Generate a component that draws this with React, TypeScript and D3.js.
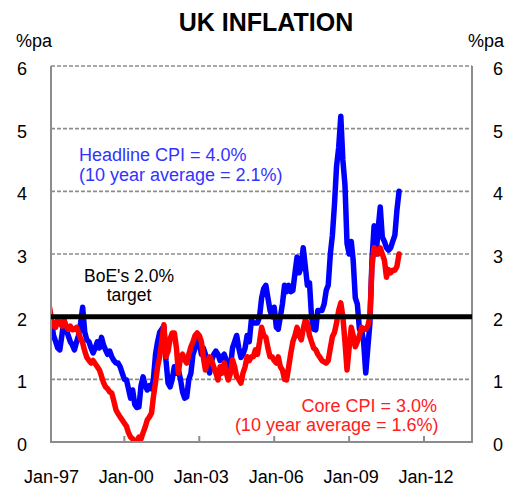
import React, { useEffect, useRef } from 'react';
import * as d3 from 'd3';

// monthly annual % change, Jan-97 .. Jan-11
const headlineCpi = [
	2.1, 1.9, 1.7, 1.6, 1.5, 1.47, 1.7, 1.95, 1.8, 1.7, 1.6, 1.55, // 1997
	1.47, 1.6, 1.7, 1.9, 2.15, 1.75, 1.63, 1.6, 1.5, 1.42, 1.5, 1.6, // 1998
	1.5, 1.67, 1.55, 1.47, 1.4, 1.45, 1.36, 1.3, 1.26, 1.26, 1.2, 1.1, // 1999
	1.0, 0.99, 0.85, 0.7, 0.83, 0.6, 0.55, 0.56, 0.9, 1.04, 0.9, 0.83, // 2000
	0.9, 0.85, 1.0, 1.4, 1.6, 1.75, 1.8, 1.85, 1.3, 0.94, 0.88, 1.0, // 2001
	1.2, 1.1, 1.15, 1.0, 0.8, 0.7, 0.72, 1.0, 1.1, 1.4, 1.5, 1.65, // 2002
	1.6, 1.4, 1.5, 1.4, 1.3, 1.1, 1.3, 1.4, 1.45, 1.4, 1.3, 1.36, // 2003
	1.4, 1.3, 1.1, 1.2, 1.5, 1.6, 1.7, 1.5, 1.35, 1.4, 1.5, 1.7, // 2004
	1.6, 1.95, 1.9, 1.9, 1.9, 2.0, 2.3, 2.45, 2.5, 2.3, 2.1, 2.0, // 2005
	2.15, 1.83, 1.8, 2.0, 2.2, 2.5, 2.4, 2.5, 2.4, 2.42, 2.7, 2.95, // 2006
	2.7, 2.8, 3.1, 2.8, 2.5, 2.54, 2.0, 1.8, 1.79, 2.1, 2.1, 2.1, // 2007
	2.2, 2.42, 2.5, 3.0, 3.3, 3.8, 4.4, 4.7, 5.2, 4.5, 4.1, 3.17, // 2008
	3.0, 3.2, 2.9, 2.3, 2.2, 1.8, 1.8, 1.6, 1.1, 1.5, 1.9, 2.9, // 2009
	3.45, 3.0, 3.4, 3.75, 3.27, 3.2, 3.1, 3.06, 3.1, 3.2, 3.3, 3.7, // 2010
	4.0 // 2011
];
const coreCpi = [
	2.15, 1.95, 1.85, 1.83, 1.95, 1.9, 1.85, 1.95, 1.85, 1.8, 1.85, 1.79, // 1997
	1.8, 1.83, 1.75, 1.65, 1.58, 1.45, 1.35, 1.3, 1.26, 1.3, 1.25, 1.2, // 1998
	1.15, 1.05, 0.95, 0.88, 0.85, 0.8, 0.78, 0.65, 0.51, 0.45, 0.4, 0.35, // 1999
	0.3, 0.25, 0.15, 0.08, 0.05, 0.02, 0.0, 0.08, 0.05, 0.15, 0.24, 0.35, // 2000
	0.4, 0.46, 0.72, 0.95, 1.2, 1.36, 1.6, 1.87, 1.36, 1.45, 1.65, 1.74, // 2001
	1.74, 1.5, 1.1, 1.36, 1.4, 1.31, 1.26, 1.4, 1.52, 1.6, 1.7, 1.74, // 2002
	1.7, 1.6, 1.35, 1.15, 1.3, 1.36, 1.3, 1.2, 1.1, 0.99, 1.2, 1.1, // 2003
	1.26, 1.1, 0.99, 1.1, 1.31, 1.2, 1.04, 1.0, 0.94, 1.1, 1.2, 1.36, // 2004
	1.3, 1.36, 1.36, 1.47, 1.4, 1.6, 1.83, 1.7, 1.67, 1.5, 1.36, 1.36, // 2005
	1.3, 1.26, 1.36, 1.2, 1.15, 1.0, 0.99, 1.2, 1.42, 1.6, 1.7, 1.83, // 2006
	1.7, 1.63, 1.8, 1.95, 1.9, 1.7, 1.6, 1.5, 1.47, 1.4, 1.35, 1.3, // 2007
	1.28, 1.26, 1.3, 1.5, 1.68, 1.75, 1.9, 2.1, 2.22, 2.0, 1.6, 1.15, // 2008
	1.5, 1.83, 1.7, 1.52, 1.6, 1.7, 1.83, 1.8, 1.8, 1.85, 2.0, 2.8, // 2009
	3.1, 3.05, 3.0, 3.1, 3.0, 2.9, 2.63, 2.75, 2.7, 2.74, 2.74, 2.8, // 2010
	3.0 // 2011
];
const boeTarget = 2.0;
const yTicks = [0, 1, 2, 3, 4, 5, 6];
const xTickYears = [1997, 2000, 2003, 2006, 2009, 2012];
const xTickLabels = ['Jan-97', 'Jan-00', 'Jan-03', 'Jan-06', 'Jan-09', 'Jan-12'];

const FONT = '"Liberation Sans", Arial, sans-serif';

const App = () => {
	const ref = useRef<SVGSVGElement>(null);
	useEffect(() => drawChart(), []);

	function drawChart() {
		const svg = d3.select(ref.current);
		svg.selectAll('*').remove();
		const left = 51, right = 472, top = 66, bottom = 442;

		const x = d3.scaleTime()
			.domain([new Date(1997, 0, 1), new Date(2012, 0, 1)])
			.range([49.5, 424]);
		const y = d3.scaleLinear().domain([0, 6]).range([bottom, top]);
		const month = (i: number) => new Date(1997, i, 1);

		svg.append('text')
			.attr('x', 266).attr('y', 31)
			.attr('text-anchor', 'middle')
			.attr('font-size', '25px').attr('font-weight', 'bold')
			.text('UK INFLATION');

		svg.append('text').attr('x', 16).attr('y', 47).attr('font-size', '18px').text('%pa');
		svg.append('text').attr('x', 504).attr('y', 47).attr('text-anchor', 'end').attr('font-size', '18px').text('%pa');

		// gridlines
		svg.selectAll('line.grid')
			.data(yTicks.filter((d) => d > 0))
			.enter()
			.append('line')
			.attr('class', 'grid')
			.attr('x1', left).attr('x2', right)
			.attr('y1', (d) => y(d)).attr('y2', (d) => y(d))
			.attr('stroke', '#8c8c8c')
			.attr('stroke-width', 1.6)
			.attr('stroke-dasharray', '4,2');

		// y labels on both sides
		svg.selectAll('text.yl')
			.data(yTicks)
			.enter()
			.append('text')
			.attr('class', 'yl')
			.attr('x', 22).attr('y', (d) => y(d) + 9)
			.attr('text-anchor', 'middle')
			.attr('font-size', '18px')
			.text((d) => d);
		svg.selectAll('text.yr')
			.data(yTicks)
			.enter()
			.append('text')
			.attr('class', 'yr')
			.attr('x', 498).attr('y', (d) => y(d) + 9)
			.attr('text-anchor', 'middle')
			.attr('font-size', '18px')
			.text((d) => d);

		// x ticks + labels
		svg.selectAll('line.xt')
			.data(xTickYears.slice(1))
			.enter()
			.append('line')
			.attr('class', 'xt')
			.attr('x1', (d) => x(new Date(d, 0, 1))).attr('x2', (d) => x(new Date(d, 0, 1)))
			.attr('y1', bottom).attr('y2', bottom - 6)
			.attr('stroke', '#8c8c8c').attr('stroke-width', 2);
		svg.selectAll('text.xl')
			.data(xTickYears)
			.enter()
			.append('text')
			.attr('class', 'xl')
			.attr('x', (d) => x(new Date(d, 0, 1)) + 2)
			.attr('y', 483)
			.attr('text-anchor', 'middle')
			.attr('font-size', '18px')
			.text((d, i) => xTickLabels[i]);

		svg.append('clipPath').attr('id', 'plotclip')
			.append('rect')
			.attr('x', left).attr('y', top - 10)
			.attr('width', right - left).attr('height', bottom - top + 10);

		const line = d3.line<number>()
			.x((d, i) => x(month(i)))
			.y((d) => y(d));

		const g = svg.append('g').attr('clip-path', 'url(#plotclip)');
		g.append('path')
			.attr('d', line(headlineCpi))
			.attr('fill', 'none').attr('stroke', '#0000ff')
			.attr('stroke-width', 5.5).attr('stroke-linejoin', 'round').attr('stroke-linecap', 'round');
		g.append('path')
			.attr('d', line(coreCpi))
			.attr('fill', 'none').attr('stroke', '#ff0000')
			.attr('stroke-width', 5.5).attr('stroke-linejoin', 'round').attr('stroke-linecap', 'round');

		// axis frame
		svg.append('path')
			.attr('d', `M${left},${top}V${bottom}H${right}V${top}`)
			.attr('fill', 'none').attr('stroke', '#8c8c8c').attr('stroke-width', 2);

		svg.append('line')
			.attr('x1', left).attr('x2', right)
			.attr('y1', y(boeTarget)).attr('y2', y(boeTarget))
			.attr('stroke', '#000').attr('stroke-width', 5);

		// annotations
		const note = (lines: string[], xp: number, yp: number[], color: string, anchor: string, size = 18) => {
			lines.forEach((t, i) => {
				svg.append('text')
					.attr('x', xp).attr('y', yp[i])
					.attr('text-anchor', anchor)
					.attr('font-size', size + 'px')
					.attr('fill', color)
					.text(t);
			});
		};
		note(['Headline CPI = 4.0%', '(10 year average = 2.1%)'], 79, [160.5, 181], '#3333ff', 'start');
		note(["BoE's 2.0%", 'target'], 129, [282, 300.5], '#000', 'middle', 17.5);
		note(['Core CPI = 3.0%'], 437, [412], '#ff2020', 'end');
		note(['(10 year average = 1.6%)'], 438.5, [430.5], '#ff2020', 'end');
	}

	return (
		<svg ref={ref} width={516} height={486}
			style={{ position: 'absolute', left: 0, top: 0, fontFamily: FONT, background: '#fff' }} />
	);
};

export default App;
